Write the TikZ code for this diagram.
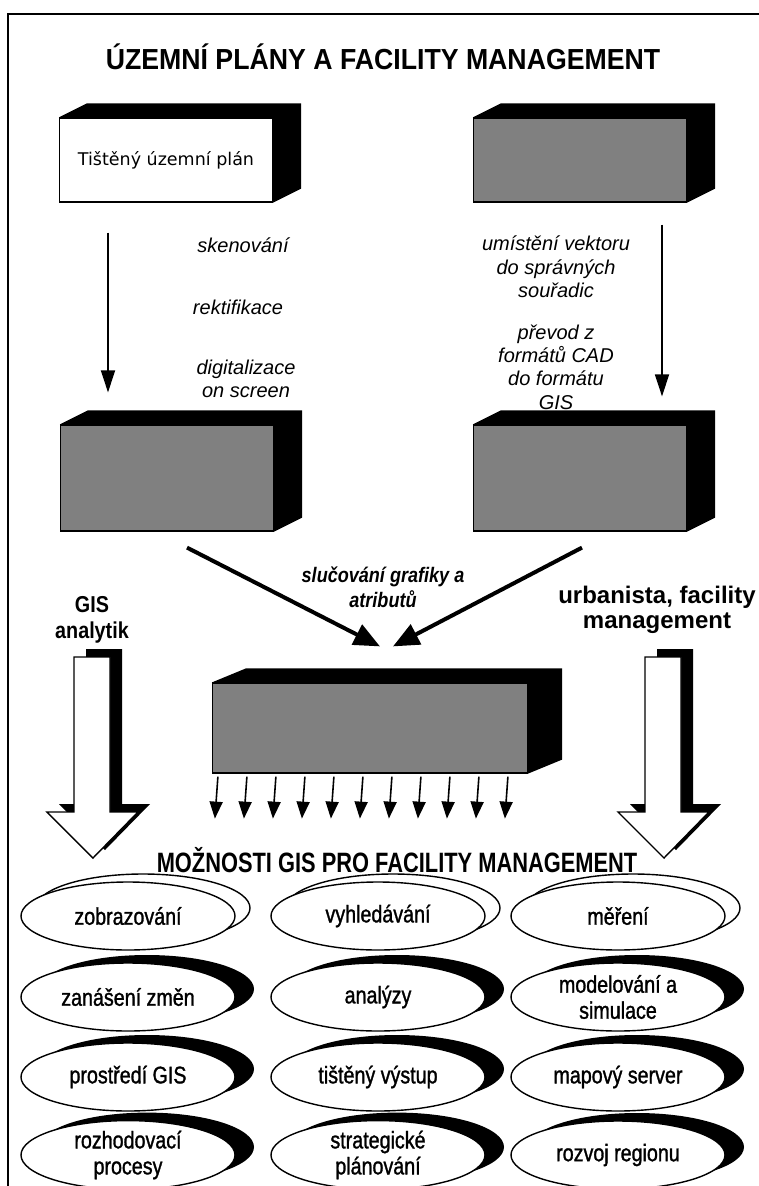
\documentclass[tikz,border=0pt]{standalone}
\usepackage{fontspec}
\setmainfont{Liberation Sans}
\newfontfamily\narrowfont[FakeStretch=0.86]{Liberation Sans}
\newfontfamily\titlefont[FakeStretch=0.92]{Liberation Sans}
\newfontfamily\tightfont[FakeStretch=0.78]{Liberation Sans}
\newfontfamily\ovalfont[FakeStretch=0.82,FakeBold=1.2]{Liberation Sans}
\newfontfamily\boxfont{DejaVu Sans}
\usetikzlibrary{arrows.meta,shapes.geometric,shadows}

\begin{document}
\begin{tikzpicture}
[x=1pt,y=-1pt,
heading/.style={font=\titlefont\fontsize{29}{33}\selectfont\bfseries},
subheading/.style={font=\tightfont\fontsize{28}{32}\selectfont\bfseries},
block/.style={draw,line width=1.2pt,fill=white,minimum width=213pt,minimum height=84pt,inner sep=2pt,font=\boxfont\fontsize{17.5}{20}\selectfont},
greyblock/.style={block,fill=black!50},
proc/.style={font=\fontsize{20}{23.3}\selectfont\itshape,align=center},
merging/.style={font=\narrowfont\fontsize{21}{25}\selectfont\bfseries\itshape,align=center},
role/.style={font=\narrowfont\fontsize{23}{26}\selectfont\bfseries,align=center},
oval/.style={ellipse,draw,line width=1.4pt,fill=white,minimum width=214pt,minimum height=68pt,inner sep=0pt,align=center,font=\ovalfont\fontsize{24}{26}\selectfont},
ringoval/.style={oval,general shadow={draw,line width=1.4pt,fill=white,shadow xshift=15pt,shadow yshift=8pt}},
darkoval/.style={oval,general shadow={fill=black,shadow xshift=19pt,shadow yshift=8pt}},
flow/.style={-{Triangle[length=22pt,width=14pt]},line width=1.8pt},
merge/.style={-{Triangle[length=26pt,width=22pt]},line width=4pt},
spill/.style={-{Triangle[length=17pt,width=13pt]},line width=1.6pt}]

\useasboundingbox (0,0) rectangle (759,1186);
% frame round the whole sheet
\draw[line width=2pt] (8,1200) -- (8,14) -- (775,14);

\node[heading] (title) at (383,57) {ÚZEMNÍ PLÁNY A FACILITY MANAGEMENT};

% source plans
\node[block] (print) at (166,160) {Tištěný územní plán};
\node[greyblock] (cad) at (580,160) {};
\node[greyblock,minimum height=106pt] (raster) at (167,478) {};
\node[greyblock,minimum height=106pt] (vector) at (580,478) {};
\node[greyblock,minimum width=315pt,minimum height=90pt] (gisdb) at (370,728) {};

% dark top and side faces
\foreach \n/\d in {print/28,cad/28,raster/28,vector/28,gisdb/34}
  \fill (\n.north west) -- ++(\d,-14) -- ([xshift=\d pt,yshift=14pt]\n.north east)
    -- ([xshift=\d pt,yshift=14pt]\n.south east) -- (\n.south east) -- (\n.north east) -- cycle;

% processing steps
\draw[flow] ([xshift=-58pt,yshift=-30pt]print.south) -- ([xshift=-59pt,yshift=32pt]raster.north);
\draw[flow] ([xshift=82pt,yshift=-22pt]cad.south) -- ([xshift=82pt,yshift=28pt]vector.north);

\node[proc] (scan) at (243,245) {skenování};
\node[proc] (rect) at (238,307) {rektifikace};
\node[proc] (digi) at (246,379) {digitalizace\\on screen};
\node[proc] (place) at (556,267) {umístění vektoru\\do správných\\souřadic};
\node[proc] (conv) at (556,367) {převod z\\formátů CAD\\do formátu\\GIS};

% merging into the database
\draw[merge] ([xshift=20pt,yshift=-16pt]raster.south) -- ([xshift=10pt,yshift=36pt]gisdb.north);
\draw[merge] ([xshift=2pt,yshift=-16pt]vector.south) -- ([xshift=23pt,yshift=36pt]gisdb.north);
\node[merging] (join) at (383,587) {slučování grafiky a\\atributů};

\foreach \i in {0,...,10}
  \draw[spill] ([xshift=\i*29pt+6pt,yshift=-3pt]gisdb.south west) -- ++(-3,42);

% users
\node[role] (analyst) at (92,620) {GIS\\analytik};
\node[role,font=\fontsize{24}{25}\selectfont\bfseries] (planner) at (657,610) {urbanista, facility\\management};
\foreach \cx in {93,664} {
  \fill[shift={(12,-8)}] (\cx-19,657) -- (\cx+17,657) -- (\cx+17,812) -- (\cx+45,812)
    -- (\cx,858) -- (\cx-46,812) -- (\cx-19,812) -- cycle;
  \filldraw[fill=white,line width=1.4pt] (\cx-19,657) -- (\cx+17,657) -- (\cx+17,812) -- (\cx+45,812)
    -- (\cx,858) -- (\cx-46,812) -- (\cx-19,812) -- cycle;
}

\node[subheading] (uses) at (397,860) {MOŽNOSTI GIS PRO FACILITY MANAGEMENT};

% possibilities
\node[ringoval] (show) at (128,916) {zobrazování};
\node[ringoval] (find) at (378,916) {vyhledávání};
\node[ringoval] (measure) at (618,916) {měření};
\node[darkoval] (edit) at (128,997) {zanášení změn};
\node[darkoval] (analyse) at (378,997) {analýzy};
\node[darkoval] (model) at (618,997) {modelování a\\simulace};
\node[darkoval] (env) at (128,1077) {prostředí GIS};
\node[darkoval] (output) at (378,1077) {tištěný výstup};
\node[darkoval] (server) at (618,1077) {mapový server};
\node[darkoval] (decide) at (128,1155) {rozhodovací\\procesy};
\node[darkoval] (plan) at (378,1155) {strategické\\plánování};
\node[darkoval] (region) at (618,1155) {rozvoj regionu};
\end{tikzpicture}
\end{document}
